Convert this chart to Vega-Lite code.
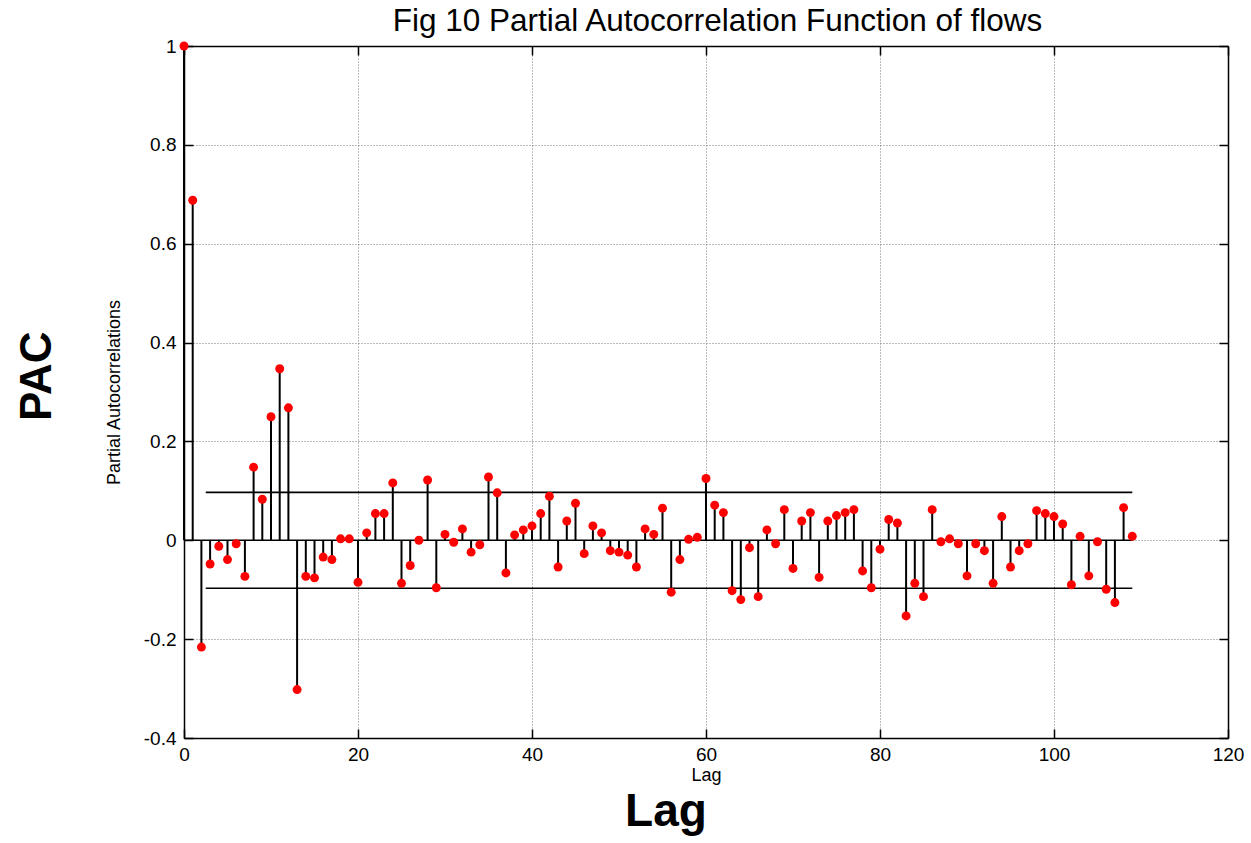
{
  "$schema": "https://vega.github.io/schema/vega-lite/v6.json",
  "width": 1044,
  "height": 692,
  "autosize": "none",
  "padding": {"left": 184, "top": 46, "right": 23, "bottom": 105},
  "background": "white",
  "config": {
    "font": "Liberation Sans",
    "view": {"stroke": null},
    "axis": {"labelColor": "black", "titleColor": "black", "labelFont": "Liberation Sans", "titleFont": "Liberation Sans"}
  },
  "datasets": {
    "pac": [
      {"lag": 0, "pac": 1}, {"lag": 1, "pac": 0.688}, {"lag": 2, "pac": -0.216}, {"lag": 3, "pac": -0.048},
      {"lag": 4, "pac": -0.012}, {"lag": 5, "pac": -0.039}, {"lag": 6, "pac": -0.007}, {"lag": 7, "pac": -0.073},
      {"lag": 8, "pac": 0.148}, {"lag": 9, "pac": 0.083}, {"lag": 10, "pac": 0.25}, {"lag": 11, "pac": 0.347},
      {"lag": 12, "pac": 0.268}, {"lag": 13, "pac": -0.302}, {"lag": 14, "pac": -0.073}, {"lag": 15, "pac": -0.076},
      {"lag": 16, "pac": -0.034}, {"lag": 17, "pac": -0.039}, {"lag": 18, "pac": 0.003}, {"lag": 19, "pac": 0.003},
      {"lag": 20, "pac": -0.085}, {"lag": 21, "pac": 0.015}, {"lag": 22, "pac": 0.054}, {"lag": 23, "pac": 0.054},
      {"lag": 24, "pac": 0.116}, {"lag": 25, "pac": -0.087}, {"lag": 26, "pac": -0.051}, {"lag": 27, "pac": 0.0},
      {"lag": 28, "pac": 0.122}, {"lag": 29, "pac": -0.096}, {"lag": 30, "pac": 0.012}, {"lag": 31, "pac": -0.004},
      {"lag": 32, "pac": 0.023}, {"lag": 33, "pac": -0.024}, {"lag": 34, "pac": -0.009}, {"lag": 35, "pac": 0.128},
      {"lag": 36, "pac": 0.096}, {"lag": 37, "pac": -0.066}, {"lag": 38, "pac": 0.011}, {"lag": 39, "pac": 0.021},
      {"lag": 40, "pac": 0.029}, {"lag": 41, "pac": 0.054}, {"lag": 42, "pac": 0.089}, {"lag": 43, "pac": -0.054},
      {"lag": 44, "pac": 0.039}, {"lag": 45, "pac": 0.075}, {"lag": 46, "pac": -0.027}, {"lag": 47, "pac": 0.029},
      {"lag": 48, "pac": 0.015}, {"lag": 49, "pac": -0.021}, {"lag": 50, "pac": -0.024}, {"lag": 51, "pac": -0.03},
      {"lag": 52, "pac": -0.054}, {"lag": 53, "pac": 0.023}, {"lag": 54, "pac": 0.012}, {"lag": 55, "pac": 0.065},
      {"lag": 56, "pac": -0.105}, {"lag": 57, "pac": -0.039}, {"lag": 58, "pac": 0.002}, {"lag": 59, "pac": 0.006},
      {"lag": 60, "pac": 0.125}, {"lag": 61, "pac": 0.071}, {"lag": 62, "pac": 0.056}, {"lag": 63, "pac": -0.102},
      {"lag": 64, "pac": -0.12}, {"lag": 65, "pac": -0.015}, {"lag": 66, "pac": -0.114}, {"lag": 67, "pac": 0.021},
      {"lag": 68, "pac": -0.007}, {"lag": 69, "pac": 0.062}, {"lag": 70, "pac": -0.057}, {"lag": 71, "pac": 0.039},
      {"lag": 72, "pac": 0.056}, {"lag": 73, "pac": -0.075}, {"lag": 74, "pac": 0.039}, {"lag": 75, "pac": 0.05},
      {"lag": 76, "pac": 0.056}, {"lag": 77, "pac": 0.062}, {"lag": 78, "pac": -0.062}, {"lag": 79, "pac": -0.096},
      {"lag": 80, "pac": -0.018}, {"lag": 81, "pac": 0.042}, {"lag": 82, "pac": 0.035}, {"lag": 83, "pac": -0.153},
      {"lag": 84, "pac": -0.087}, {"lag": 85, "pac": -0.114}, {"lag": 86, "pac": 0.062}, {"lag": 87, "pac": -0.003},
      {"lag": 88, "pac": 0.003}, {"lag": 89, "pac": -0.007}, {"lag": 90, "pac": -0.072}, {"lag": 91, "pac": -0.007},
      {"lag": 92, "pac": -0.021}, {"lag": 93, "pac": -0.087}, {"lag": 94, "pac": 0.048}, {"lag": 95, "pac": -0.054},
      {"lag": 96, "pac": -0.021}, {"lag": 97, "pac": -0.007}, {"lag": 98, "pac": 0.06}, {"lag": 99, "pac": 0.054},
      {"lag": 100, "pac": 0.048}, {"lag": 101, "pac": 0.033}, {"lag": 102, "pac": -0.09}, {"lag": 103, "pac": 0.008},
      {"lag": 104, "pac": -0.072}, {"lag": 105, "pac": -0.003}, {"lag": 106, "pac": -0.099}, {"lag": 107, "pac": -0.126},
      {"lag": 108, "pac": 0.066}, {"lag": 109, "pac": 0.008}
    ],
    "limits": [
      {"kind": "baseline", "start": 0, "end": 109, "level": 0},
      {"kind": "upper bound", "start": 2.5, "end": 109, "level": 0.097},
      {"kind": "lower bound", "start": 2.5, "end": 109, "level": -0.097}
    ]
  },
  "layer": [
    {
      "layer": [
        {
          "data": {"name": "pac"},
          "mark": {"type": "rule", "color": "black", "strokeWidth": 2},
          "encoding": {
            "x": {
              "field": "lag",
              "type": "quantitative",
              "scale": {"domain": [0, 120], "nice": false, "zero": false},
              "axis": {
                "orient": "bottom",
                "values": [0, 20, 40, 60, 80, 100, 120],
                "title": "Lag",
                "titleFontSize": 18,
                "titleFontWeight": "normal",
                "titlePadding": 2,
                "labelFontSize": 19,
                "labelPadding": 16,
                "labelFlush": false,
                "tickSize": -9,
                "tickColor": "black",
                "tickWidth": 1.5,
                "domainColor": "black",
                "domainWidth": 1.5,
                "grid": true,
                "gridColor": "#777777",
                "gridDash": [1, 2],
                "gridWidth": 1
              }
            },
            "y": {
              "field": "pac",
              "type": "quantitative",
              "scale": {"domain": [-0.4, 1], "nice": false, "zero": false},
              "axis": {
                "orient": "left",
                "values": [-0.4, -0.2, 0, 0.2, 0.4, 0.6, 0.8, 1],
                "labelExpr": "replace(format(datum.value, '~g'), '\u2212', '-')",
                "title": "Partial Autocorrelations",
                "titleFontSize": 18,
                "titleFontWeight": "normal",
                "titlePadding": 20,
                "labelFontSize": 19,
                "labelPadding": 17,
                "labelFlush": false,
                "tickSize": -9,
                "tickColor": "black",
                "tickWidth": 1.5,
                "domainColor": "black",
                "domainWidth": 1.5,
                "grid": true,
                "gridColor": "#777777",
                "gridDash": [1, 2],
                "gridWidth": 1
              }
            },
            "y2": {"datum": 0}
          }
        },
        {
          "data": {"name": "limits"},
          "mark": {"type": "rule", "color": "black", "strokeWidth": 1.6},
          "encoding": {
            "x": {"field": "start", "type": "quantitative"},
            "x2": {"field": "end"},
            "y": {"field": "level", "type": "quantitative"}
          }
        },
        {
          "data": {"name": "pac"},
          "mark": {"type": "circle", "color": "#ff0000", "opacity": 1, "size": 80},
          "encoding": {
            "x": {"field": "lag", "type": "quantitative"},
            "y": {"field": "pac", "type": "quantitative"}
          }
        },
        {
          "data": {"values": [{"label": "PAC"}]},
          "mark": {"type": "text", "angle": 270, "fontSize": 44, "fontWeight": "bold", "font": "Liberation Sans", "color": "black", "align": "center", "baseline": "alphabetic"},
          "encoding": {
            "text": {"field": "label"},
            "x": {"datum": -15.3},
            "y": {"datum": 0.332}
          }
        },
        {
          "data": {"values": [{"label": "Lag"}]},
          "mark": {"type": "text", "fontSize": 46, "fontWeight": "bold", "font": "Liberation Sans", "color": "black", "align": "center", "baseline": "alphabetic"},
          "encoding": {
            "text": {"field": "label"},
            "x": {"datum": 55.4},
            "y": {"datum": -0.578}
          }
        }
      ]
    },
    {
      "data": {"name": "pac"},
      "mark": {"type": "rule", "opacity": 0},
      "encoding": {
        "x": {
          "field": "lag",
          "type": "quantitative",
          "scale": {"domain": [0, 120], "nice": false, "zero": false},
          "axis": {
            "orient": "top",
            "values": [0, 20, 40, 60, 80, 100, 120],
            "labels": false,
            "title": "Fig 10 Partial Autocorrelation Function of flows",
            "titleFontSize": 31.5,
            "titleFontWeight": "normal",
            "titleBaseline": "alphabetic",
            "titleAnchor": "middle",
            "titleX": 533,
            "titleY": -16,
            "grid": false,
            "tickSize": -9,
            "tickColor": "black",
            "tickWidth": 1.5,
            "domainColor": "black",
            "domainWidth": 1.5
          }
        },
        "y": {
          "field": "pac",
          "type": "quantitative",
          "scale": {"domain": [-0.4, 1], "nice": false, "zero": false},
          "axis": {"orient": "right", "values": [-0.4, -0.2, 0, 0.2, 0.4, 0.6, 0.8, 1], "labels": false, "title": null, "grid": false, "tickSize": -9, "tickColor": "black", "tickWidth": 1.5, "domainColor": "black", "domainWidth": 1.5}
        }
      }
    }
  ],
  "resolve": {"scale": {"x": "independent", "y": "independent"}}
}
